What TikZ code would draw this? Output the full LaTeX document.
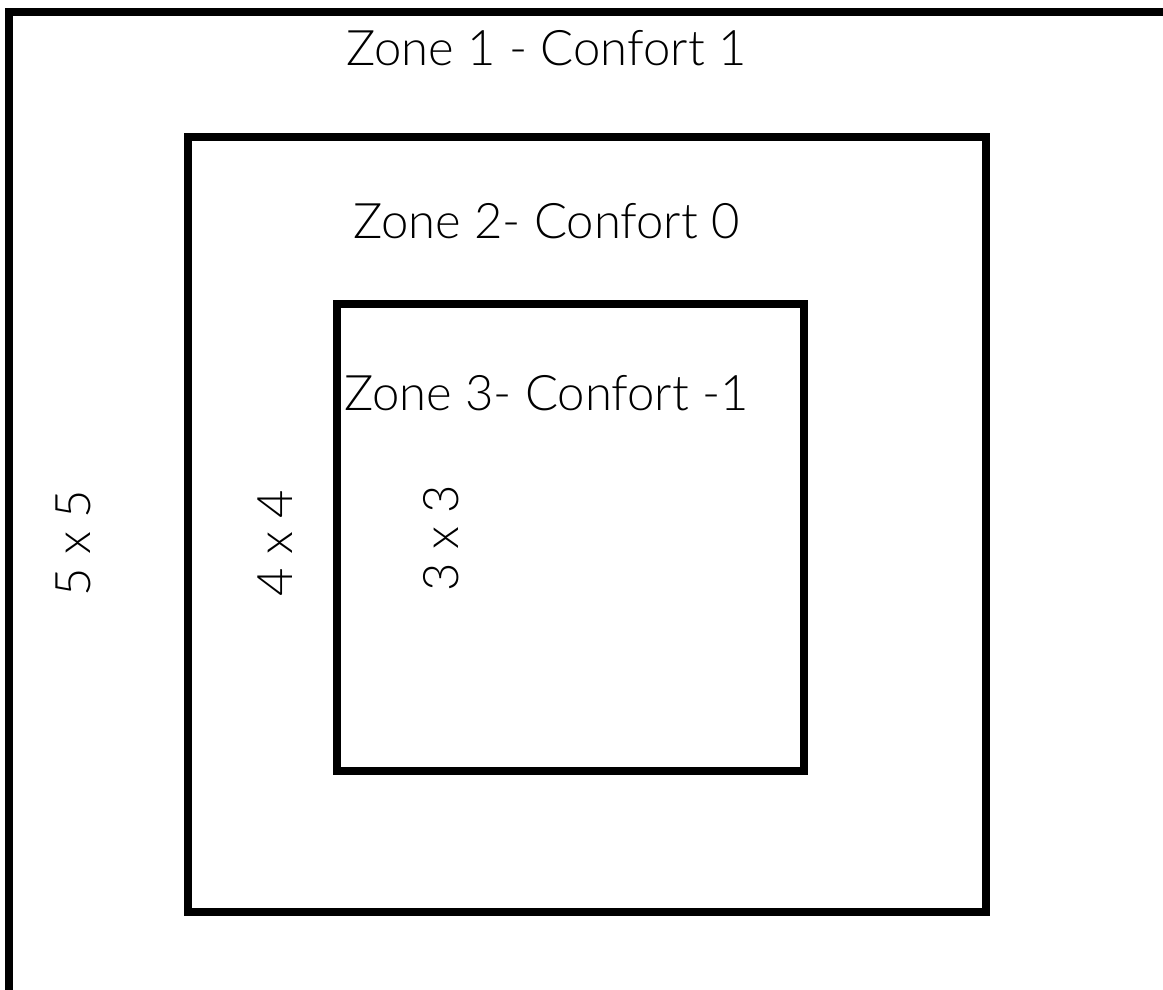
\documentclass[tikz,border=0pt]{standalone}
\usepackage{fontspec}
\IfFontExistsTF{Lato Light}{\setmainfont{Lato Light}}{\setmainfont{Liberation Sans}}
\begin{document}
\begin{tikzpicture}[x=1pt,y=-1pt,
  zonebox/.style={draw=black,line width=8pt,fill=none,inner sep=0pt,outer sep=0pt},
  zonelabel/.style={inner sep=0pt,anchor=base,font=\fontsize{49}{55}\selectfont},
  sizelabel/.style={inner sep=0pt,anchor=base,rotate=90,font=\fontsize{49}{55}\selectfont}]
\useasboundingbox (0,0) rectangle (1163,989);
\clip (0,0) rectangle (1163,989);
\fill[white] (0,0) rectangle (1163,989);
\node[zonebox,minimum width=1300pt,minimum height=1150pt] (z1) at (659,587) {};
\node[zonebox,minimum width=797.5pt,minimum height=775pt] (z2) at (586.75,524.5) {};
\node[zonebox,minimum width=467.5pt,minimum height=467.5pt] (z3) at (570.25,537.25) {};
\node[zonelabel] (t1) at (546.5,65) {Zone 1 - Confort 1};
\node[zonelabel] (t2) at (546.5,238) {Zone 2- Confort 0};
\node[zonelabel] (t3) at (546.5,410) {Zone 3- Confort -1};
\node[sizelabel] (s1) at (90,543) {5 x 5};
\node[sizelabel] (s2) at (292,543) {4 x 4};
\node[sizelabel] (s3) at (458,538) {3 x 3};
\end{tikzpicture}
\end{document}
